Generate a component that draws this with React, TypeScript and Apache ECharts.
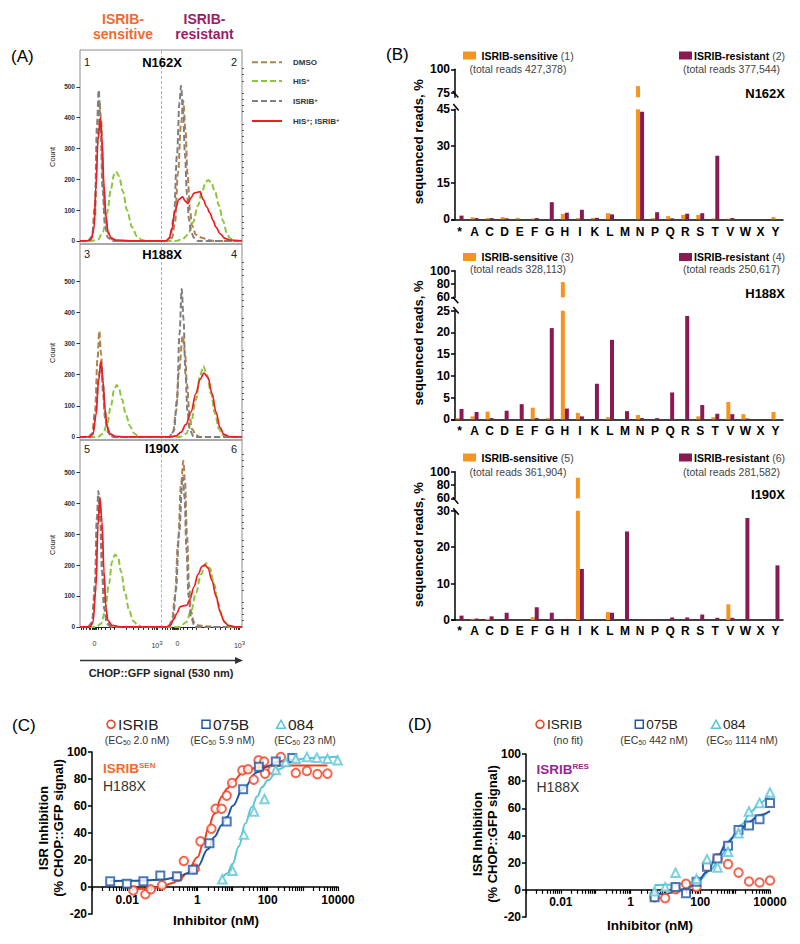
import React, { useEffect, useRef } from 'react';
import * as echarts from 'echarts';

const FONT = "'Liberation Sans', Arial, Helvetica, sans-serif";

// ---------------- Panel A: CHOP::GFP histograms [signal channel, count] ----------------
const n162xDMSO = [[0,0],[8,0],[12,10],[15,80],[17,300],[19.3,455],[21,400],[23,200],[25,90],[28,25],[32,5],[40,0],[88,0],[92,10],[95,60],[98,220],[101,380],[103.3,455],[105.5,360],[107.5,220],[110,100],[112,50],[116,20],[122,10],[128,3],[134,0],[162,0]];
const n162xHIS = [[0,0],[12,0],[18,5],[23,30],[27,90],[31,170],[34,215],[36,225],[39,210],[43,160],[47,100],[52,45],[57,15],[62,3],[68,0],[96,0],[102,5],[108,20],[113,60],[118,115],[122,160],[126,192],[128.3,198],[131,190],[135,160],[139,115],[143,65],[147,25],[150,8],[155,0],[162,0]];
const n162xISRIB = [[0,0],[8,0],[12,15],[15,120],[17,380],[18.7,490],[20.5,380],[22.5,170],[25,50],[28,10],[32,0],[86,0],[90,10],[94,80],[97,280],[99.5,450],[101,504],[103,420],[105,280],[107,150],[109,70],[111,30],[114,10],[118,0],[162,0]];
const n162xBoth = [[0,0],[8,0],[11,5],[14,40],[16,180],[18,330],[20.5,400],[22,330],[24,180],[26,80],[28,30],[31,10],[36,3],[50,0],[86,0],[89,8],[92,40],[95,100],[99,135],[102.7,143],[105,130],[108,122],[111,140],[114,155],[117,158],[120,160],[123,135],[126.7,111],[130,90],[133,67],[136,45],[140,24],[145,8],[150,3],[162,0]];

const h188xDMSO = [[0,0],[8,0],[12,10],[15,80],[17.5,250],[19.3,340],[21,270],[23,140],[25,60],[28,15],[32,0],[89,0],[93,15],[96,80],[99,210],[102.7,324],[105,270],[107,170],[109.5,70],[112,25],[116,5],[120,0],[162,0]];
const h188xHIS = [[0,0],[18,0],[23,10],[27,40],[31,100],[34,150],[36.7,167],[39,155],[42,120],[46,70],[50,35],[54,12],[58,3],[63,0],[100,0],[106,10],[111,45],[116,120],[120,195],[123.3,227],[127,200],[131,140],[135,75],[139,25],[143,5],[148,0],[162,0]];
const h188xISRIB = [[0,0],[9,0],[13,10],[16,80],[18.5,190],[21,240],[23,170],[25,80],[27,30],[30,5],[34,0],[90,0],[94,20],[97,120],[99.5,330],[101.7,475],[103.5,380],[105.5,200],[107.5,80],[110,20],[114,0],[162,0]];
const h188xBoth = [[0,0],[10,0],[13,10],[16,70],[18.5,180],[21,243],[23,180],[25,90],[27,35],[30,10],[35,2],[45,0],[90,0],[96,3],[101,15],[106,40],[111,80],[116,140],[120,185],[124,205],[128,190],[132,140],[136,80],[140,30],[144,8],[150,0],[162,0]];

const i190xDMSO = [[0,0],[8,0],[12,10],[15,110],[17,340],[19,425],[21,340],[23,160],[25,60],[28,12],[32,0],[88,0],[92,20],[95,100],[98,270],[101,460],[103.3,538],[105,470],[107,300],[109,140],[111,50],[114,15],[118,5],[125,2],[135,0],[162,0]];
const i190xHIS = [[0,0],[16,0],[21,10],[25,50],[29,140],[32,210],[35,234],[38,225],[41,180],[45,110],[49,55],[53,20],[58,5],[62,0],[100,0],[106,15],[111,50],[116,110],[121,170],[126,206],[130,190],[134,140],[138,80],[142,30],[146,8],[150,0],[162,0]];
const i190xISRIB = [[0,0],[8,0],[12,15],[15,140],[17,360],[18.3,440],[20,360],[22,180],[24,60],[27,10],[31,0],[89,0],[93,20],[96,120],[99,300],[102.7,489],[104.5,420],[106.5,250],[108.5,100],[111,30],[115,0],[162,0]];
const i190xBoth = [[0,0],[10,0],[13,15],[16,130],[18,330],[20,418],[22,340],[24,180],[26,60],[28,20],[32,5],[40,0],[86,0],[90,5],[94,25],[97,45],[100,65],[103,68],[106.7,70],[110,90],[114,130],[118,170],[122,195],[125,201],[128,190],[132,150],[136,100],[140,50],[144,18],[148,5],[155,0],[162,0]];

const countTicks = [0, 100, 200, 300, 400, 500];
const countMinorTicks = [20,40,60,80,120,140,160,180,220,240,260,280,320,340,360,380,420,440,460,480,520,540,560];
const signalLabelValues = [14.5, 77, 97.5, 159.5];
const signalLabels = ['0', '{n|10}{s|3}', '0', '{n|10}{s|3}'];
const signalTickValues = [1,3.5,6,9,10.5,12,13,14,14.5,15.5,16.5,18,21,25,30,34,46,53,58,63,68,72,74,76,77,82.5,85,87.5,90.5,92,93.5,94.5,95.5,96.5,97.5,98.5,100,103,107,112,116,128,135,140,145,150,154,156,158,159.5];
const histLegend = ['DMSO', 'HIS+', 'ISRIB+', 'HIS+; ISRIB+'];

// ---------------- Panel B: sequenced reads, % ----------------
const aminoAcids = ['*','A','C','D','E','F','G','H','I','K','L','M','N','P','Q','R','S','T','V','W','X','Y'];
const n162xSensitive = [0,0.8,0.5,0.9,0.6,0.3,0,2.2,0.5,0.6,2.5,0,82,0.5,1.3,1.8,1.8,0.4,0.3,0,0,0.9];
const n162xResistant = [1.5,0.5,0.5,0.4,0,0.5,7,2.7,3.9,0.6,2,0,44,2.9,0.4,2.3,2.5,26,0.5,0,0,0];
const h188xSensitive = [0.3,0.7,1.8,0,0,2.7,0.3,83,1.5,0,0.5,0,1,0,0,0,0.7,0.5,4,1.2,0,1.7];
const h188xResistant = [2.4,1.7,0.3,2,3.5,0.3,21,2.5,0.7,8.2,18.3,1.9,0.3,0.3,6.2,23.8,3.3,1.3,1.2,0.2,0,0];
const i190xSensitive = [0,0.2,0.3,0,0,0.8,0,0,91,0,2.2,0,0,0,0,0,0,0,4.3,0,0,0];
const i190xResistant = [1.2,0.4,1,2,0,3.5,2,0.3,14,0,2,24.3,0.2,0.2,0.7,0.7,1.5,0.6,0.6,28,0,15];
const readTotalsSensitive = ['427,378', '328,113', '361,904'];
const readTotalsResistant = ['377,544', '250,617', '281,582'];
const mutantNames = ['N162X', 'H188X', 'I190X'];

// ---------------- Panel C: ISRIB-sensitive H188X dose response ----------------
const isribSenDose = [0.015,0.033,0.047,0.098,0.28,0.41,0.84,1.22,2.5,3.3,4.9,6.8,9.7,19,27.5,40,55,79,84,138,236,630,1300,2600,5000];
const isribSenInhib = [-2.5,-5.4,-1.7,1.2,7.4,19.3,13.6,33.8,43.2,58,58,67.7,77,86.4,87.2,79.5,93.8,93,84,86.8,96.3,84.4,86,83.6,84];
const b075SenDose = [0.0033,0.0098,0.029,0.088,0.26,0.74,2.2,6.8,20,56,170,500];
const b075SenInhib = [4.2,2.5,4.2,8.6,7.9,12.8,32.5,48.6,72.5,89,93,95.5];
const c084SenDose = [5.1,10,21,41,81,170,325,630,1300,2500,5000,9800];
const c084SenInhib = [5.7,12,38.8,56,65.2,86.6,92.6,95,96.3,95.8,95,93.8];
const isribSenFit = [[0.012,-2],[0.05,-1.2],[0.1,0.5],[0.2,3],[0.3,5.5],[0.5,10],[1,22],[1.5,33],[2,43],[3,54],[5,67],[7,73],[10,78],[20,85],[30,87],[50,88.5],[100,89.3],[300,90],[1000,90],[5000,90]];
const b075SenFit = [[0.0033,4.5],[0.01,4.6],[0.03,4.8],[0.1,5.5],[0.3,7.5],[0.5,10],[1,15],[2,28],[3,37],[5,46],[7,52],[10,60],[20,73],[50,85],[100,89.5],[200,93],[500,94.5]];
const c084SenFit = [[4.5,4],[7,10],[10,17],[15,30],[23,47],[35,59],[50,67],[70,74],[100,79],[200,87],[500,93],[1000,95],[3000,96],[10000,96.5]];

// ---------------- Panel D: ISRIB-resistant H188X dose response ----------------
const isribResDose = [4.9,9.8,19.5,39,78,156,312,625,1250,2500,5000,10000];
const isribResInhib = [-5.4,-6.1,0.5,4.4,2,17,23.3,18.9,12.7,6.1,5.4,6.9];
const b075ResDose = [4.9,19.5,39,78,156,312,625,1250,2500,5000,10000];
const b075ResInhib = [-5.5,2,-2.5,6,17,23,32.5,44,47.3,52,64];
const c084ResDose = [4.9,9.8,19.5,78,156,312,625,1250,2500,5000,10000];
const c084ResInhib = [-1,2,12.5,8,22.5,16.5,28,41.7,57.6,64,71.6];
const b075ResFit = [[4.9,-3],[10,-3],[20,-1.5],[40,1],[80,5],[150,13],[300,24],[600,35],[1250,43],[2500,50],[5000,55],[10000,58]];
const c084ResFit = [[4.9,3.5],[20,4],[50,5],[100,8],[200,15],[400,26],[800,38],[1500,48],[3000,58],[5000,64],[10000,71]];
const doseLabelValues = [0.01, 1, 100, 10000];

// colours
const COL_DMSO = '#b4804c';
const COL_HIS = '#8cc63e';
const COL_ISRIB = '#7f7f7f';
const COL_BOTH = '#ee1c24';
const COL_SEN_BAR = '#f7941d';
const COL_RES_BAR = '#8b1a52';
const COL_SEN_TXT = '#f26a2e';
const COL_RES_TXT = '#9b1d64';
const COL_RED = '#ef4123';
const COL_BLUE = '#1f56a5';
const COL_CYAN = '#5bc5da';

const zip = (a: number[], b: number[]) => a.map((x, i) => [x, b[i]]);

function T(x: number, y: number, text: string, size: number, o: any = {}) {
  const base: any = { fontSize: size, fontWeight: o.bold ? 'bold' : 'normal', fontFamily: FONT, fill: o.color || '#000' };
  const rich: any = {};
  if (o.rich) {
    Object.keys(o.rich).forEach((k) => {
      rich[k] = Object.assign({ fontFamily: FONT, fill: o.color || '#000', fontWeight: o.bold ? 'bold' : 'normal' }, o.rich[k]);
    });
  }
  return {
    type: 'text', x, y, rotation: o.rotation || 0, silent: true, z: 100,
    style: Object.assign(base, {
      text, textAlign: o.align || 'left', align: o.align || 'left',
      textVerticalAlign: 'middle', verticalAlign: 'middle',
      rich: o.rich ? rich : undefined,
    }),
  };
}
function L(x1: number, y1: number, x2: number, y2: number, stroke: string, w: number, dash?: number[]) {
  return { type: 'line', silent: true, z: 100, shape: { x1, y1, x2, y2 }, style: { stroke, lineWidth: w, lineDash: dash } };
}

function buildOption() {
  const grids: any[] = [
    { left: 80, top: 50, width: 162, height: 194, show: true },
    { left: 80, top: 244, width: 162, height: 196, show: true },
    { left: 80, top: 440, width: 162, height: 187.5, show: true },
    { left: 452, top: 69.3, width: 331, height: 28 },
    { left: 452, top: 109.3, width: 331, height: 110 },
    { left: 452, top: 270.7, width: 331, height: 26.7 },
    { left: 452, top: 310.7, width: 331, height: 108.7 },
    { left: 452, top: 471.7, width: 331, height: 26.7 },
    { left: 452, top: 510.7, width: 331, height: 109.3 },
    { left: 92, top: 752, width: 246, height: 162 },
    { left: 526, top: 754, width: 244, height: 163 },
  ].map((g) => Object.assign({ containLabel: false, outerBoundsMode: 'none', borderColor: '#8c8c8c', borderWidth: 1, backgroundColor: 'transparent' }, g));

  const xAxes: any[] = [];
  const yAxes: any[] = [];
  const series: any[] = [];

  // ---- Panel A axes
  const aRanges = [[-10, 620], [-10, 620], [-2, 605]];
  for (let i = 0; i < 3; i++) {
    if (i < 2) {
      xAxes.push({ gridIndex: i, type: 'value', min: 0, max: 162, show: false });
    } else {
      xAxes.push({
        gridIndex: i, type: 'value', min: 0, max: 162,
        axisLine: { show: true, lineStyle: { color: '#222', width: 1 } },
        axisTick: { show: true, length: 3, customValues: signalTickValues, lineStyle: { color: '#222', width: 1 } },
        axisLabel: {
          customValues: signalLabelValues, margin: 12, color: '#333', fontSize: 7, fontFamily: FONT,
          formatter: (v: number) => signalLabels[signalLabelValues.indexOf(v)] ?? '',
          rich: { n: { fontSize: 7, fontFamily: FONT, color: '#333' }, s: { fontSize: 6, fontFamily: FONT, color: '#333', verticalAlign: 'top', padding: [0, 0, 5, 0] } },
        },
        splitLine: { show: false },
      });
    }
  }
  for (let i = 0; i < 3; i++) {
    yAxes.push({
      gridIndex: i, type: 'value', min: aRanges[i][0], max: aRanges[i][1],
      axisLine: { show: false },
      axisTick: { show: true, length: 3.5, customValues: countTicks, lineStyle: { color: '#333', width: 1 } },
      axisLabel: { customValues: countTicks, fontSize: 6.5, fontWeight: 'bold', color: '#333', margin: 5, fontFamily: FONT },
      splitLine: { show: false },
    });
  }
  for (let i = 0; i < 3; i++) {
    yAxes.push({
      gridIndex: i, type: 'value', min: aRanges[i][0], max: aRanges[i][1],
      axisLine: { show: false }, axisLabel: { show: false },
      axisTick: { show: true, length: 2, customValues: countMinorTicks, lineStyle: { color: '#333', width: 0.8 } },
      splitLine: { show: false },
    });
  }
  const aPanels = [
    [n162xDMSO, n162xHIS, n162xISRIB, n162xBoth],
    [h188xDMSO, h188xHIS, h188xISRIB, h188xBoth],
    [i190xDMSO, i190xHIS, i190xISRIB, i190xBoth],
  ];
  const aCols = [COL_DMSO, COL_HIS, COL_ISRIB, COL_BOTH];
  aPanels.forEach((p, i) => {
    p.forEach((d, j) => {
      const s: any = {
        type: 'line', name: histLegend[j], xAxisIndex: i, yAxisIndex: i, data: d,
        showSymbol: false, symbol: 'none', smooth: 0.35, smoothMonotone: 'x', silent: true, z: 2 + j,
        lineStyle: { color: aCols[j], width: j === 3 ? 1.7 : 2, type: j === 3 ? 'solid' : [6, 3] },
      };
      if (j === 0) {
        s.markLine = {
          silent: true, symbol: ['none', 'none'], label: { show: false },
          lineStyle: { color: '#b3b3b3', type: [3, 2], width: 1 },
          data: [{ xAxis: 81 }],
        };
      }
      series.push(s);
    });
  });

  // ---- Panel B axes (grids 3..8)
  const bTop = [
    { min: 70, max: 100, labels: [75, 100] },
    { min: 60, max: 100, labels: [60, 80, 100] },
    { min: 60, max: 100, labels: [60, 80, 100] },
  ];
  const bBottom = [
    { max: 45, interval: 15 },
    { max: 25, interval: 5 },
    { max: 30, interval: 10 },
  ];
  const bLabelMargin = [7, 6, 5];
  const bSen = [n162xSensitive, h188xSensitive, i190xSensitive];
  const bRes = [n162xResistant, h188xResistant, i190xResistant];
  const bAxisLine = { show: true, lineStyle: { color: '#000', width: 1.5 } };
  const bAxisTick = { show: true, length: 4, lineStyle: { color: '#000', width: 1.5 } };
  const bAxisLabel = { fontSize: 12, fontWeight: 'bold', color: '#000', margin: 5, fontFamily: FONT };
  for (let k = 0; k < 3; k++) {
    const gt = 3 + 2 * k;
    const gb = gt + 1;
    xAxes[gt] = { gridIndex: gt, type: 'category', data: aminoAcids, show: false };
    xAxes[gb] = {
      gridIndex: gb, type: 'category', data: aminoAcids,
      axisLine: bAxisLine, axisTick: { show: false },
      axisLabel: Object.assign({}, bAxisLabel, { interval: 0, margin: bLabelMargin[k] }),
      splitLine: { show: false },
    };
    yAxes[gt + 3] = {
      gridIndex: gt, type: 'value', min: bTop[k].min, max: bTop[k].max, offset: -3,
      axisLine: bAxisLine,
      axisTick: Object.assign({}, bAxisTick, { customValues: bTop[k].labels }),
      axisLabel: Object.assign({}, bAxisLabel, { customValues: bTop[k].labels }),
      splitLine: { show: false },
    };
    yAxes[gb + 3] = {
      gridIndex: gb, type: 'value', min: 0, max: bBottom[k].max, interval: bBottom[k].interval, offset: -3,
      axisLine: bAxisLine, axisTick: bAxisTick, axisLabel: bAxisLabel, splitLine: { show: false },
    };
    [gt, gb].forEach((g) => {
      series.push({ type: 'bar', name: 'ISRIB-sensitive', xAxisIndex: g, yAxisIndex: g + 3, data: bSen[k], barWidth: 4, barGap: '0%', itemStyle: { color: COL_SEN_BAR }, silent: true });
      series.push({ type: 'bar', name: 'ISRIB-resistant', xAxisIndex: g, yAxisIndex: g + 3, data: bRes[k], barWidth: 4, barGap: '0%', itemStyle: { color: COL_RES_BAR }, silent: true });
    });
  }

  // ---- Panels C, D (grids 9, 10)
  const logTicks: number[] = [];
  for (let e = -3; e < 4; e++) for (let m = 1; m < 10; m++) logTicks.push(Number((m * Math.pow(10, e)).toPrecision(3)));
  logTicks.push(10000);
  const doseName: Record<string, string> = { '-2': '0.01', '0': '1', '2': '100', '4': '10000' };
  const zeroOffset = [-27, -27.2];
  [9, 10].forEach((g, idx) => {
    xAxes[g] = {
      gridIndex: g, type: 'log', logBase: 10, min: 0.001, max: 10000, splitNumber: 7,
      position: 'bottom', offset: zeroOffset[idx],
      axisLine: { show: true, onZero: false, lineStyle: { color: '#000', width: 1.5 } },
      axisTick: { show: true, length: 4, customValues: logTicks, lineStyle: { color: '#000', width: 1.2 } },
      axisLabel: {
        customValues: doseLabelValues, fontSize: 12, fontWeight: 'bold', color: '#000', margin: idx === 0 ? 7 : 6, fontFamily: FONT,
        formatter: (v: number) => doseName[String(Math.round(Math.log10(v)))] ?? '',
      },
      splitLine: { show: false },
    };
    yAxes[12 + idx] = {
      gridIndex: g, type: 'value', min: -20, max: 100, interval: 20,
      axisLine: { show: true, lineStyle: { color: '#000', width: 1.5 } },
      axisTick: { show: true, length: 4, lineStyle: { color: '#000', width: 1.5 } },
      axisLabel: { fontSize: 12, fontWeight: 'bold', color: '#000', margin: 5, fontFamily: FONT },
      splitLine: { show: false },
    };
  });
  const fit = (g: number, data: number[][], color: string) => ({
    type: 'line', xAxisIndex: g, yAxisIndex: g + 3, data, showSymbol: false, symbol: 'none',
    smooth: 0.4, smoothMonotone: 'x', lineStyle: { color, width: 2 }, z: 2, silent: true,
  });
  const pts = (g: number, name: string, data: number[][], color: string, symbol: string, size: number) => ({
    type: 'scatter', name, xAxisIndex: g, yAxisIndex: g + 3, data, symbol, symbolSize: size, z: 3, silent: true,
    itemStyle: { color, borderColor: color, borderWidth: 1.4 },
  });
  series.push(fit(9, isribSenFit, COL_RED), fit(9, b075SenFit, COL_BLUE), fit(9, c084SenFit, COL_CYAN));
  series.push(
    pts(9, 'ISRIB', zip(isribSenDose, isribSenInhib), COL_RED, 'emptyCircle', 8.5),
    pts(9, '075B', zip(b075SenDose, b075SenInhib), COL_BLUE, 'emptyRect', 8),
    pts(9, '084', zip(c084SenDose, c084SenInhib), COL_CYAN, 'emptyTriangle', 8.5),
  );
  series.push(fit(10, c084ResFit, COL_CYAN), fit(10, b075ResFit, COL_BLUE));
  series.push(
    pts(10, 'ISRIB', zip(isribResDose, isribResInhib), COL_RED, 'emptyCircle', 8.5),
    pts(10, '075B', zip(b075ResDose, b075ResInhib), COL_BLUE, 'emptyRect', 8),
    pts(10, '084', zip(c084ResDose, c084ResInhib), COL_CYAN, 'emptyTriangle', 8.5),
  );

  // ---------------- graphic overlay: titles, legends, labels ----------------
  const g: any[] = [];
  const supRich = { n: { fontSize: 8 }, s: { fontSize: 6, verticalAlign: 'top' } };
  // Panel A
  g.push(T(11, 56, '(A)', 17));
  g.push(T(123, 19, 'ISRIB-', 14, { bold: true, color: COL_SEN_TXT, align: 'center' }));
  g.push(T(123, 34, 'sensitive', 14, { bold: true, color: COL_SEN_TXT, align: 'center' }));
  g.push(T(204.5, 19, 'ISRIB-', 14, { bold: true, color: COL_RES_TXT, align: 'center' }));
  g.push(T(204.5, 34, 'resistant', 14, { bold: true, color: COL_RES_TXT, align: 'center' }));
  const aRowY = [62, 254, 448.5];
  const aCountY = [157, 353, 545];
  mutantNames.forEach((m, i) => {
    g.push(T(87, aRowY[i], String(2 * i + 1), 11, { color: '#222', align: 'center' }));
    g.push(T(162, aRowY[i], m, 13, { bold: true, align: 'center' }));
    g.push(T(234, aRowY[i], String(2 * i + 2), 11, { color: '#222', align: 'center' }));
    g.push(T(52, aCountY[i], 'Count', 7.5, { rotation: Math.PI / 2, align: 'center', color: '#222' }));
  });
  const legY = [62.3, 81, 101, 121];
  const legTexts = ['{n|DMSO}', '{n|HIS}{s|+}', '{n|ISRIB}{s|+}', '{n|HIS}{s|+}{n|; ISRIB}{s|+}'];
  legY.forEach((y, j) => {
    g.push(L(252, y, 282, y, aCols[j], 2, j === 3 ? undefined : [6, 3]));
    g.push(T(293, y, legTexts[j], 8, { bold: true, color: '#333', rich: supRich }));
  });
  g.push(L(80, 660.5, 237, 660.5, '#333', 1.5));
  g.push({ type: 'polygon', silent: true, z: 100, shape: { points: [[235, 657], [243, 660.5], [235, 664]] }, style: { fill: '#333' } });
  g.push(T(161, 673, 'CHOP::GFP signal (530 nm)', 11, { bold: true, align: 'center', color: '#222' }));

  // Panel B
  g.push(T(386, 54, '(B)', 17));
  const bLegY = [55.5, 257, 457.5];
  const bTotY = [69.3, 269.3, 471.7];
  const bTitleY = [141.7, 343, 544.7];
  const bNameY = [93, 293.3, 494];
  const bBreaks = [[91, 104], [296.7, 307], [497.3, 508.3]];
  const bRich = { b: { fontSize: 10.5, fontWeight: 'bold', fill: '#000' }, r: { fontSize: 10.5, fill: '#444' } };
  for (let k = 0; k < 3; k++) {
    g.push({ type: 'rect', silent: true, z: 100, shape: { x: 463, y: bLegY[k] - 4, width: 13, height: 8 }, style: { fill: COL_SEN_BAR } });
    g.push(T(481.5, bLegY[k], `{b|ISRIB-sensitive} {r|(${2 * k + 1})}`, 10.5, { rich: bRich }));
    g.push(T(518, bTotY[k], `(total reads ${readTotalsSensitive[k]})`, 10.5, { color: '#444', align: 'center' }));
    g.push({ type: 'rect', silent: true, z: 100, shape: { x: 679, y: bLegY[k] - 4, width: 13, height: 8 }, style: { fill: COL_RES_BAR } });
    g.push(T(785, bLegY[k], `{b|ISRIB-resistant} {r|(${2 * k + 2})}`, 10.5, { rich: bRich, align: 'right' }));
    g.push(T(780, bTotY[k], `(total reads ${readTotalsResistant[k]})`, 10.5, { color: '#444', align: 'right' }));
    g.push(T(418, bTitleY[k], 'sequenced reads, %', 13, { bold: true, rotation: Math.PI / 2, align: 'center' }));
    g.push(T(785, bNameY[k], mutantNames[k], 13, { bold: true, align: 'right' }));
    g.push(L(452.7, bBreaks[k][0], 458.3, bBreaks[k][0] + 6.5, '#000', 1.5));
    g.push(L(453.3, bBreaks[k][1], 458.7, bBreaks[k][1] + 6.5, '#000', 1.5));
  }

  // Panels C and D legends
  const ecRich = { n: { fontSize: 10.5, fill: '#333' }, s: { fontSize: 7, fill: '#333', verticalAlign: 'bottom' } };
  const legendBlock = (xs: number[], names: string[], subs: string[], subX: number[], nameSize: number) => {
    const y = 724.3;
    g.push({ type: 'circle', silent: true, z: 100, shape: { cx: xs[0], cy: y, r: 4 }, style: { fill: 'none', stroke: COL_RED, lineWidth: 1.5 } });
    g.push({ type: 'rect', silent: true, z: 100, shape: { x: xs[1] - 4, y: y - 4, width: 8, height: 8 }, style: { fill: 'none', stroke: COL_BLUE, lineWidth: 1.5 } });
    g.push({ type: 'polygon', silent: true, z: 100, shape: { points: [[xs[2] - 4.5, y + 4], [xs[2] + 4.5, y + 4], [xs[2], y - 4]] }, style: { fill: 'none', stroke: COL_CYAN, lineWidth: 1.5 } });
    names.forEach((n, i) => g.push(T(xs[i] + 7, y, n, nameSize, { color: '#222' })));
    subs.forEach((s, i) => g.push(T(subX[i], 740, s, 10.5, { align: 'center', rich: ecRich, color: '#333' })));
  };
  g.push(T(12, 725, '(C)', 17));
  legendBlock([111, 206, 281], ['ISRIB', '075B', '084'],
    ['{n|(EC}{s|50}{n| 2.0 nM)}', '{n|(EC}{s|50}{n| 5.9 nM)}', '{n|(EC}{s|50}{n| 23 nM)}'], [137, 222.5, 305], 15.5);
  g.push(T(408, 724, '(D)', 17));
  legendBlock([540, 639.3, 716], ['ISRIB', '075B', '084'],
    ['{n|(no fit)}', '{n|(EC}{s|50}{n| 442 nM)}', '{n|(EC}{s|50}{n| 1114 nM)}'], [568, 654, 742], 13.5);

  const tagRich = (c: string) => ({ b: { fontSize: 13.5, fontWeight: 'bold', fill: c }, s: { fontSize: 8, fontWeight: 'bold', fill: c, verticalAlign: 'top' } });
  g.push(T(103, 768.5, '{b|ISRIB}{s|SEN}', 13.5, { rich: tagRich(COL_SEN_TXT) }));
  g.push(T(103, 786, 'H188X', 14, { color: '#333' }));
  g.push(T(536.5, 769, '{b|ISRIB}{s|RES}', 13.5, { rich: tagRich('#95288f') }));
  g.push(T(536.5, 786.5, 'H188X', 14, { color: '#333' }));

  g.push(T(43, 828, 'ISR Inhibition', 13, { bold: true, rotation: Math.PI / 2, align: 'center' }));
  g.push(T(58.5, 828, '(% CHOP::GFP signal)', 13, { bold: true, rotation: Math.PI / 2, align: 'center' }));
  g.push(T(216, 920, 'Inhibitor (nM)', 13.5, { bold: true, align: 'center' }));
  g.push(T(477, 834, 'ISR Inhibition', 13, { bold: true, rotation: Math.PI / 2, align: 'center' }));
  g.push(T(492.5, 834, '(% CHOP::GFP signal)', 13, { bold: true, rotation: Math.PI / 2, align: 'center' }));
  g.push(T(650, 925, 'Inhibitor (nM)', 13.5, { bold: true, align: 'center' }));

  return {
    animation: false,
    backgroundColor: '#ffffff',
    textStyle: { fontFamily: FONT },
    grid: grids,
    xAxis: xAxes,
    yAxis: yAxes,
    series,
    graphic: { elements: g },
  };
}

export default function App() {
  const ref = useRef<HTMLDivElement>(null);
  useEffect(() => {
    if (!ref.current) return;
    const chart = echarts.init(ref.current, null, { renderer: 'svg' });
    chart.setOption(buildOption() as any);
    return () => chart.dispose();
  }, []);
  return <div ref={ref} style={{ position: 'absolute', left: 0, top: 0, width: 800, height: 944, background: '#fff' }} />;
}
